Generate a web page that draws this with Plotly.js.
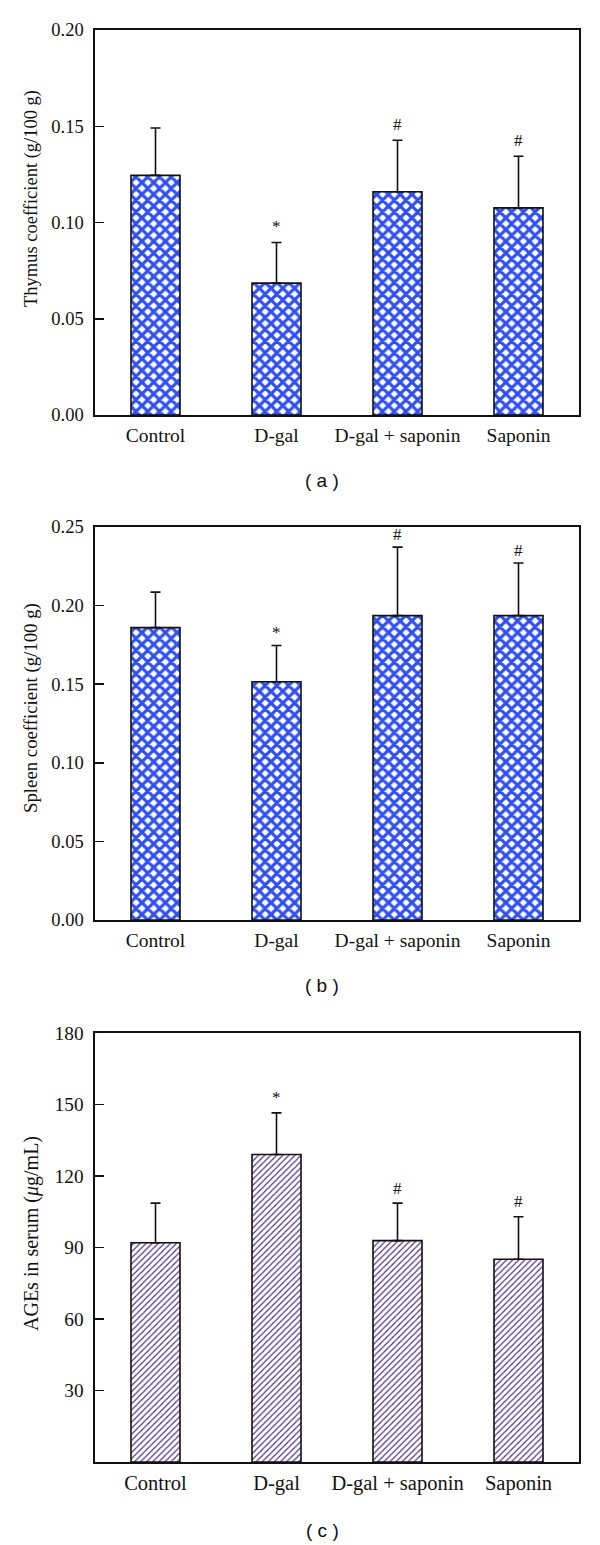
<!DOCTYPE html>
<html>
<head>
<meta charset="utf-8">
<script src="https://cdn.plot.ly/plotly-3.0.1.min.js"></script>
<style>
html,body{margin:0;padding:0;background:#fff;}
#chart{width:600px;height:1545px;}
</style>
</head>
<body>
<div id="chart"></div>
<script>
// ---- data ----
const categories = ["Control", "D-gal", "D-gal + saponin", "Saponin"];

const thymusMean = [0.1245, 0.0685, 0.1160, 0.1076];
const thymusErr  = [0.0246, 0.0211, 0.0267, 0.0268];
const thymusMarks = ["", "*", "#", "#"];

const spleenMean = [0.1860, 0.1516, 0.1936, 0.1936];
const spleenErr  = [0.0226, 0.0230, 0.0436, 0.0335];
const spleenMarks = ["", "*", "#", "#"];

const agesMean = [92.0, 129.0, 92.9, 85.1];
const agesErr  = [16.6, 17.5, 15.7, 17.8];
const agesMarks = ["", "*", "#", "#"];

const thymusTicks = [0, 0.05, 0.10, 0.15, 0.20];
const spleenTicks = [0, 0.05, 0.10, 0.15, 0.20, 0.25];
const agesTicks = [30, 60, 90, 120, 150, 180];

// ---- layout helpers ----
const W = 600, H = 1545;
const px = v => v / W;
const py = v => 1 - v / H;

const BLUE = "#2f4ff2";
const PURPLE = "#4a2c86";
const SERIF = "Liberation Serif, Times New Roman, serif";

const xDomain = [px(95), px(579)];
const panels = [
  {top: 30, bottom: 415},
  {top: 527, bottom: 920},
  {top: 1033, bottom: 1462}
];

const checker = {shape: "x", fgcolor: BLUE, bgcolor: "#ffffff", size: 8.3, solidity: 0.62};
const hatch = {shape: "/", fgcolor: PURPLE, bgcolor: "#ffffff", size: 4.3, solidity: 0.27};

function barTrace(mean, err, pattern, xa, ya) {
  return {
    type: "bar",
    x: categories,
    y: mean,
    xaxis: xa, yaxis: ya,
    width: 0.405,
    marker: {color: "#ffffff", pattern: pattern, line: {color: "#111", width: 1.6}},
    error_y: {type: "data", symmetric: false, array: err, arrayminus: mean.map(() => 0),
              color: "#111", thickness: 1.6, width: 5},
    showlegend: false,
    hoverinfo: "skip"
  };
}

const data = [
  barTrace(thymusMean, thymusErr, checker, "x", "y"),
  barTrace(spleenMean, spleenErr, checker, "x2", "y2"),
  barTrace(agesMean, agesErr, hatch, "x3", "y3")
];

function xAxis(anchor, fs) {
  return {
    domain: xDomain, anchor: anchor, type: "category",
    range: [-0.5, 3.5],
    showline: true, mirror: true, linecolor: "#111", linewidth: 1.6,
    ticks: "", showgrid: false, zeroline: false,
    tickfont: {family: SERIF, size: fs, color: "#111"},
    ticklabelstandoff: 2,
    fixedrange: true
  };
}
function yAxis(anchor, p, range, ticks, fmt, fs) {
  return {
    domain: [py(p.bottom), py(p.top)], anchor: anchor,
    range: range, tickvals: ticks,
    ticktext: ticks.map(v => fmt(v)),
    showline: true, mirror: true, linecolor: "#111", linewidth: 1.6,
    ticks: "inside", ticklen: 9, tickwidth: 1.5, tickcolor: "#111",
    showgrid: false, zeroline: false,
    tickfont: {family: SERIF, size: fs, color: "#111"},
    ticklabelstandoff: 6,
    fixedrange: true
  };
}

const annotations = [];
function marks(arr, mean, err, xr, yr, shift) {
  arr.forEach((m, i) => {
    if (!m) return;
    annotations.push({
      xref: xr, yref: yr, x: categories[i], y: mean[i] + err[i],
      text: m, showarrow: false, yanchor: "middle", yshift: shift,
      font: {family: SERIF, size: 17, color: "#111"}
    });
  });
}
marks(thymusMarks, thymusMean, thymusErr, "x", "y", 16);
marks(spleenMarks, spleenMean, spleenErr, "x2", "y2", 13);
marks(agesMarks, agesMean, agesErr, "x3", "y3", 15);

function ytitle(text, ycenter, fs) {
  annotations.push({
    xref: "paper", yref: "paper", x: px(31), y: py(ycenter),
    xanchor: "center", yanchor: "middle", textangle: -90,
    text: text, showarrow: false,
    font: {family: SERIF, size: fs, color: "#111"}
  });
}
ytitle("Thymus coefficient (g/100 g)", 199, 18.5);
ytitle("Spleen coefficient (g/100 g)", 708, 18.8);
ytitle("AGEs in serum (<i>μ</i>g/mL)", 1234, 20);

function plabel(text, ycenter) {
  annotations.push({
    xref: "paper", yref: "paper", x: px(322), y: py(ycenter),
    xanchor: "center", yanchor: "middle", text: text, showarrow: false,
    font: {family: "Liberation Sans, Arial, sans-serif", size: 19, color: "#111"}
  });
}
plabel("( a )", 481);
plabel("( b )", 985);
plabel("( c )", 1530);

const layout = {
  width: W, height: H,
  margin: {l: 0, r: 0, t: 0, b: 0},
  paper_bgcolor: "#fff", plot_bgcolor: "#fff",
  xaxis: xAxis("y", 19.5),
  xaxis2: xAxis("y2", 19.5),
  xaxis3: xAxis("y3", 20.5),
  yaxis: yAxis("x", panels[0], [0, 0.20], thymusTicks, v => v.toFixed(2), 18.5),
  yaxis2: yAxis("x2", panels[1], [0, 0.25], spleenTicks, v => v.toFixed(2), 18.5),
  yaxis3: yAxis("x3", panels[2], [0, 180], agesTicks, v => String(v), 19.3),
  annotations: annotations,
  bargap: 0.6
};

Plotly.newPlot("chart", data, layout, {displayModeBar: false, staticPlot: true});
</script>
</body>
</html>
